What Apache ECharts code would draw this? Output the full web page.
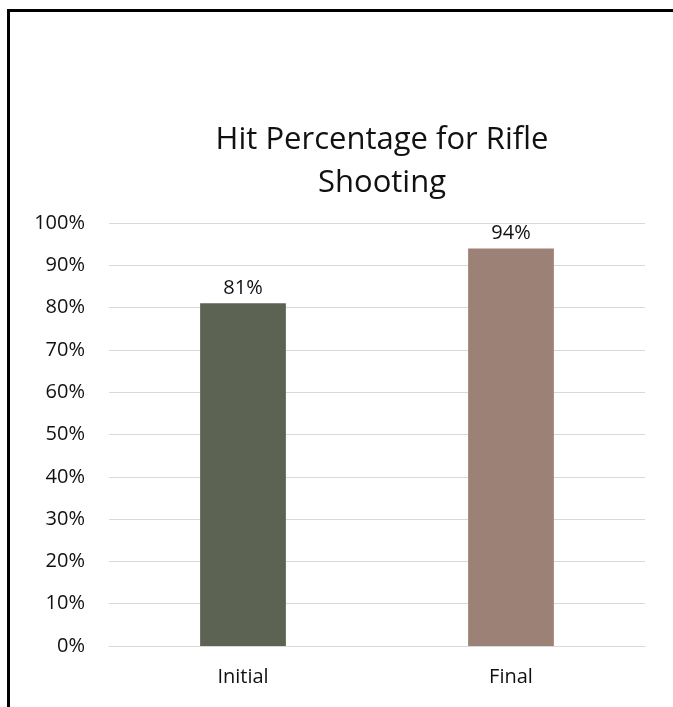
<!DOCTYPE html>
<html>
<head>
<meta charset="utf-8">
<script src="https://cdn.jsdelivr.net/npm/echarts@6/dist/echarts.min.js"></script>
<style>
html,body{margin:0;padding:0;background:#fff;overflow:hidden;}
#frame{position:absolute;left:7px;top:9px;width:800px;height:800px;border-left:3px solid #000;border-top:3px solid #000;box-sizing:border-box;}
#chart{position:absolute;left:0;top:0;width:673px;height:707px;}
</style>
</head>
<body>
<div id="frame"></div>
<div id="chart"></div>
<script>
const titleText = "Hit Percentage for Rifle\nShooting";
const categories = ["Initial", "Final"];
const values = [81, 94];
const barColors = ["#5c6352", "#9c8276"];
const yTicks = [0, 10, 20, 30, 40, 50, 60, 70, 80, 90, 100];

const chart = echarts.init(document.getElementById('chart'), null, {renderer: 'canvas'});
const font = "'Open Sans', 'Noto Sans', sans-serif";
chart.setOption({
  backgroundColor: 'transparent',
  animation: false,
  title: {
    text: titleText,
    left: 377,
    top: 114,
    textAlign: 'center',
    textStyle: {fontFamily: font, fontSize: 31, fontWeight: 'normal', color: '#111', lineHeight: 43}
  },
  grid: {left: 109, right: 28, top: 223, bottom: 61, containLabel: false},
  xAxis: {
    type: 'category',
    data: categories,
    axisLine: {show: true, lineStyle: {color: '#d9d9d9', width: 1}},
    axisTick: {show: false},
    axisLabel: {fontFamily: font, fontSize: 20, color: '#111', margin: 21}
  },
  yAxis: {
    type: 'value',
    min: yTicks[0],
    max: yTicks[yTicks.length - 1],
    interval: 10,
    axisLine: {show: false},
    axisTick: {show: false},
    splitLine: {lineStyle: {color: '#d9d9d9', width: 1}},
    axisLabel: {fontFamily: font, fontSize: 20, color: '#111', margin: 24, formatter: v => v + '%'}
  },
  series: [{
    type: 'bar',
    barWidth: '32%',
    data: values.map((v, i) => ({value: v, itemStyle: {color: barColors[i]}})),
    label: {show: true, position: 'top', distance: 5, fontFamily: font, fontSize: 20, color: '#111', formatter: p => p.value + '%'}
  }]
});
</script>
</body>
</html>
